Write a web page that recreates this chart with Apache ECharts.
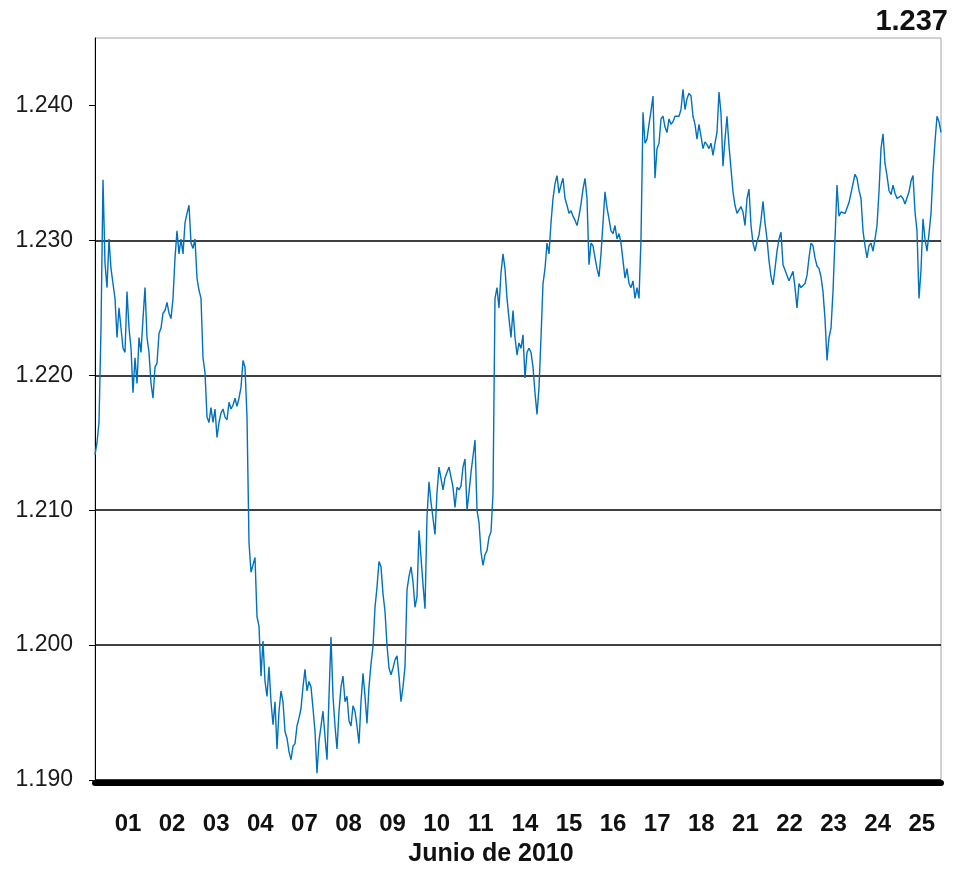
<!DOCTYPE html>
<html>
<head>
<meta charset="utf-8">
<script src="https://cdn.jsdelivr.net/npm/echarts@6/dist/echarts.min.js"></script>
<style>
  html, body { margin: 0; padding: 0; background: #fff; }
  #chart { width: 953px; height: 872px; }
</style>
</head>
<body>
<div id="chart"></div>
<script>
// dias de cotizacion, junio 2010
const dias = ['01', '02', '03', '04', '07', '08', '09', '10', '11', '14', '15', '16', '17', '18', '21', '22', '23', '24', '25']
const ticksY = [1.19, 1.20, 1.21, 1.22, 1.23, 1.24]
const ultimo = '1.237'

// EUR/USD intradia, muestras a intervalos regulares (~1 h)
const tipos = [
  1.2141, 1.2150, 1.2165, 1.2235, 1.2345, 1.2283, 1.2265, 1.2301, 1.2279, 1.2268, 1.2257, 1.2228, 1.2250, 1.2235, 1.2220, 1.2217,
  1.2262, 1.2235, 1.2220, 1.2187, 1.2213, 1.2194, 1.2228, 1.2217, 1.2242, 1.2265, 1.2228, 1.2217, 1.2194, 1.2183, 1.2206, 1.2209,
  1.2231, 1.2235, 1.2246, 1.2248, 1.2254, 1.2246, 1.2242, 1.2257, 1.2287, 1.2307, 1.2290, 1.2301, 1.2290, 1.2313, 1.2320, 1.2326,
  1.2298, 1.2294, 1.2301, 1.2272, 1.2263, 1.2257, 1.2213, 1.2202, 1.2169, 1.2165, 1.2176, 1.2165, 1.2175, 1.2154, 1.2165, 1.2172,
  1.2175, 1.2169, 1.2167, 1.2180, 1.2175, 1.2178, 1.2183, 1.2177, 1.2183, 1.2191, 1.2211, 1.2206, 1.2169, 1.2076, 1.2054, 1.2054,
  1.2065, 1.2021, 1.2014, 1.1977, 1.2003, 1.1973, 1.1962, 1.1984, 1.1958, 1.1941, 1.1958, 1.1923, 1.1951, 1.1966, 1.1958, 1.1936,
  1.1931, 1.1921, 1.1915, 1.1925, 1.1927, 1.1940, 1.1946, 1.1953, 1.1969, 1.1982, 1.1966, 1.1973, 1.1969, 1.1953, 1.1936, 1.1905,
  1.1929, 1.1940, 1.1951, 1.1932, 1.1915, 1.1962, 1.2006, 1.1962, 1.1940, 1.1923, 1.1951, 1.1969, 1.1977, 1.1958, 1.1962, 1.1944,
  1.1940, 1.1955, 1.1951, 1.1940, 1.1927, 1.1958, 1.1979, 1.1962, 1.1942, 1.1969, 1.1986, 1.1999, 1.2028, 1.2043, 1.2062, 1.2058,
  1.2038, 1.2025, 1.2000, 1.1983, 1.1978, 1.1983, 1.1989, 1.1992, 1.1977, 1.1958, 1.1969, 1.1984, 1.2041, 1.2051, 1.2058, 1.2047,
  1.2028, 1.2036, 1.2085, 1.2065, 1.2045, 1.2027, 1.2095, 1.2121, 1.2106, 1.2106, 1.2082, 1.2113, 1.2132, 1.2132, 1.2115, 1.2124,
  1.2123, 1.2132, 1.2133, 1.2117, 1.2102, 1.2117, 1.2115, 1.2118, 1.2132, 1.2138, 1.2100, 1.2113, 1.2128, 1.2128, 1.2152, 1.2100,
  1.2091, 1.2069, 1.2059, 1.2067, 1.2070, 1.2080, 1.2084, 1.2112, 1.2257, 1.2265, 1.2250, 1.2276, 1.2290, 1.2279, 1.2257, 1.2242,
  1.2228, 1.2248, 1.2228, 1.2215, 1.2224, 1.2220, 1.2230, 1.2198, 1.2217, 1.2220, 1.2217, 1.2206, 1.2187, 1.2171, 1.2191, 1.2228,
  1.2268, 1.2279, 1.2298, 1.2290, 1.2313, 1.2331, 1.2342, 1.2348, 1.2335, 1.2341, 1.2346, 1.2331, 1.2326, 1.2320, 1.2322, 1.2318,
  1.2315, 1.2311, 1.2318, 1.2327, 1.2338, 1.2346, 1.2331, 1.2282, 1.2298, 1.2296, 1.2287, 1.2279, 1.2273, 1.2290, 1.2313, 1.2336,
  1.2324, 1.2316, 1.2307, 1.2305, 1.2311, 1.2301, 1.2305, 1.2298, 1.2285, 1.2272, 1.2279, 1.2268, 1.2265, 1.2270, 1.2257, 1.2265,
  1.2257, 1.2301, 1.2395, 1.2372, 1.2375, 1.2386, 1.2396, 1.2407, 1.2346, 1.2368, 1.2372, 1.2390, 1.2392, 1.2384, 1.2380, 1.2390,
  1.2386, 1.2388, 1.2392, 1.2392, 1.2392, 1.2397, 1.2412, 1.2397, 1.2405, 1.2409, 1.2407, 1.2392, 1.2386, 1.2375, 1.2386, 1.2377,
  1.2368, 1.2373, 1.2371, 1.2368, 1.2372, 1.2363, 1.2372, 1.2380, 1.2410, 1.2394, 1.2355, 1.2375, 1.2392, 1.2370, 1.2353, 1.2336,
  1.2326, 1.2320, 1.2320, 1.2325, 1.2321, 1.2311, 1.2331, 1.2338, 1.2311, 1.2298, 1.2292, 1.2299, 1.2304, 1.2315, 1.2329, 1.2313,
  1.2301, 1.2285, 1.2273, 1.2267, 1.2279, 1.2292, 1.2301, 1.2306, 1.2282, 1.2278, 1.2274, 1.2270, 1.2269, 1.2277, 1.2265, 1.2250,
  1.2268, 1.2265, 1.2265, 1.2268, 1.2274, 1.2287, 1.2298, 1.2296, 1.2287, 1.2281, 1.2279, 1.2273, 1.2262, 1.2242, 1.2211, 1.2228,
  1.2235, 1.2262, 1.2301, 1.2341, 1.2318, 1.2321, 1.2321, 1.2320, 1.2324, 1.2328, 1.2335, 1.2342, 1.2349, 1.2346, 1.2337, 1.2331,
  1.2307, 1.2296, 1.2287, 1.2296, 1.2298, 1.2292, 1.2301, 1.2311, 1.2336, 1.2368, 1.2379, 1.2357, 1.2348, 1.2337, 1.2334, 1.2341,
  1.2335, 1.2331, 1.2331, 1.2333, 1.2331, 1.2327, 1.2326, 1.2336, 1.2344, 1.2348, 1.2321, 1.2307, 1.2257, 1.2278, 1.2316, 1.2301,
  1.2292, 1.2305, 1.2320, 1.2351, 1.2373, 1.2392, 1.2388, 1.2380
]

const fuente = "'Liberation Sans', Arial, sans-serif"

const n = tipos.length
// posicion de la etiqueta de cada dia sobre el eje de muestras
const posDias = dias.map((d, i) => 16.5 + i * 22.05)

const myChart = echarts.init(document.getElementById('chart'))

const option = {
  animation: false,
  title: {
    text: ultimo,
    right: 0,
    top: 0,
    padding: [7, 5, 5, 5],
    textStyle: { fontSize: 29, fontWeight: 'bold', color: '#111', fontFamily: fuente }
  },
  grid: {
    left: 95, right: 12, top: 38, bottom: 88,
    show: true,
    borderColor: '#a6a6a6',
    borderWidth: 1
  },
  xAxis: {
    type: 'value',
    min: 0,
    max: n - 1,
    offset: 3,
    splitLine: { show: false },
    axisLine: { onZero: false, lineStyle: { color: '#000', width: 6 } },
    axisTick: { show: false },
    axisLabel: {
      customValues: posDias,
      formatter: v => dias[posDias.indexOf(v)],
      margin: 29,
      fontSize: 24,
      fontWeight: 'bold',
      color: '#111',
      fontFamily: fuente
    },
    name: 'Junio de 2010',
    nameLocation: 'middle',
    nameGap: 59,
    nameTextStyle: {
      fontSize: 25, fontWeight: 'bold', color: '#111', fontFamily: fuente,
      padding: [0, 54, 0, 0]
    }
  },
  yAxis: {
    type: 'value',
    min: 1.19,
    max: 1.245,
    interval: 0.01,
    axisLine: { show: true, lineStyle: { color: '#000', width: 1 } },
    axisTick: { show: true, length: 6, customValues: ticksY, lineStyle: { color: '#000' } },
    axisLabel: {
      customValues: ticksY,
      formatter: v => v.toFixed(3),
      margin: 22,
      fontSize: 23,
      color: '#1a1a1a',
      fontFamily: fuente
    },
    splitLine: { show: true, showMaxLine: false, lineStyle: { color: '#000', width: 1.5 } }
  },
  series: [
    {
      type: 'line',
      data: tipos.map((v, i) => [i, v]),
      showSymbol: false,
      sampling: 'none',
      lineStyle: { color: '#0070C0', width: 1.4 }
    }
  ]
}

myChart.setOption(option)
</script>
</body>
</html>
